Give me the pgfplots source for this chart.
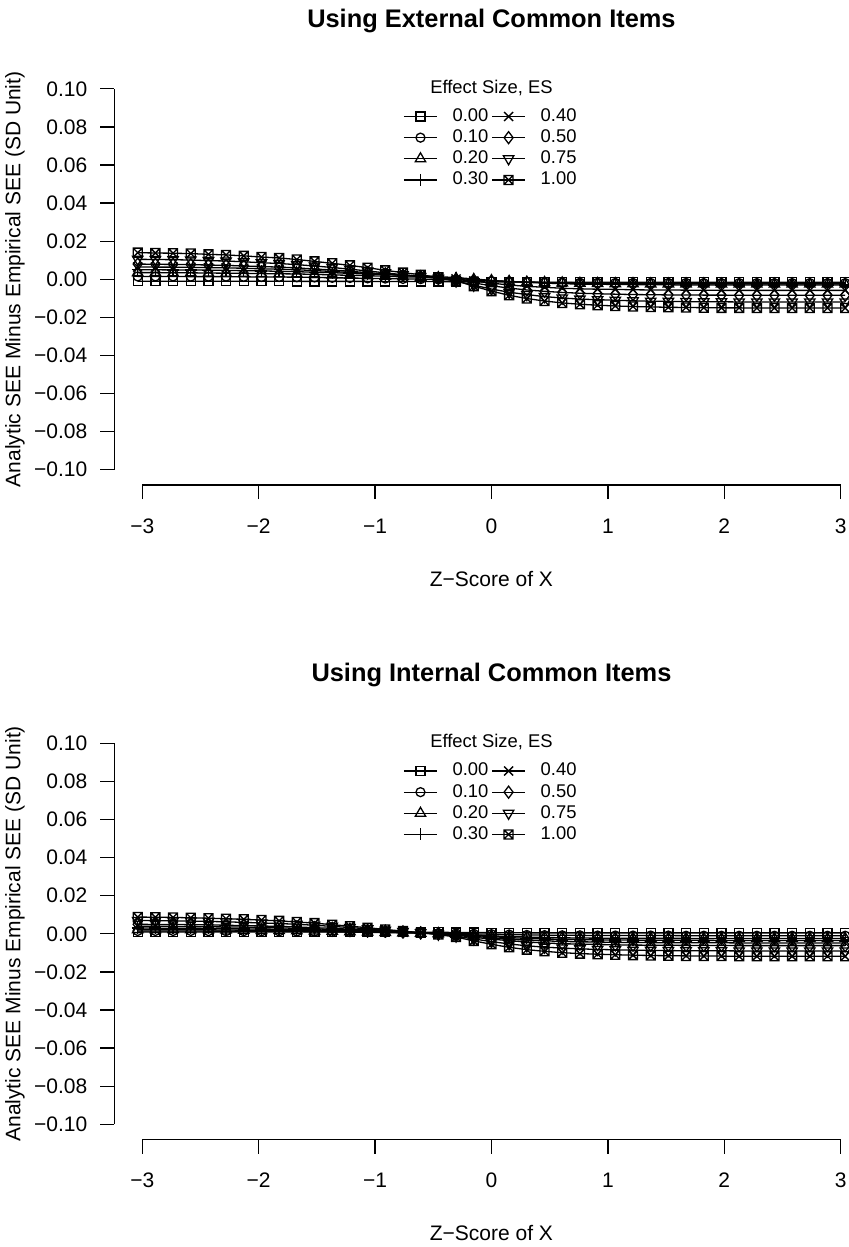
\documentclass[border=0pt]{standalone}
\usepackage{pgfplots}
\pgfplotsset{compat=1.18}
\usepackage{pgfplotstable}
\usepackage{fontspec}
\setmainfont{Liberation Sans}

\pgfdeclareplotmark{boxtimes}{%
  \pgfpathrectangle{\pgfpoint{-\pgfplotmarksize}{-\pgfplotmarksize}}{\pgfpoint{2\pgfplotmarksize}{2\pgfplotmarksize}}%
  \pgfpathmoveto{\pgfpoint{-\pgfplotmarksize}{-\pgfplotmarksize}}%
  \pgfpathlineto{\pgfpoint{\pgfplotmarksize}{\pgfplotmarksize}}%
  \pgfpathmoveto{\pgfpoint{-\pgfplotmarksize}{\pgfplotmarksize}}%
  \pgfpathlineto{\pgfpoint{\pgfplotmarksize}{-\pgfplotmarksize}}%
  \pgfusepathqstroke}

\pgfplotstableread{
x e00 e10 e20 e30 e40 e50 e75 e100
-3.039 -0.0010 0.0015 0.0035 0.0050 0.0065 0.0080 0.0105 0.0140
-2.887 -0.0010 0.0015 0.0035 0.0050 0.0064 0.0079 0.0104 0.0138
-2.735 -0.0010 0.0015 0.0034 0.0049 0.0064 0.0078 0.0103 0.0137
-2.583 -0.0010 0.0014 0.0034 0.0049 0.0063 0.0077 0.0101 0.0135
-2.431 -0.0010 0.0014 0.0033 0.0048 0.0061 0.0075 0.0098 0.0131
-2.280 -0.0010 0.0014 0.0032 0.0047 0.0060 0.0073 0.0096 0.0128
-2.128 -0.0010 0.0013 0.0031 0.0045 0.0058 0.0070 0.0092 0.0123
-1.976 -0.0010 0.0012 0.0030 0.0044 0.0055 0.0067 0.0087 0.0117
-1.824 -0.0010 0.0012 0.0029 0.0042 0.0053 0.0064 0.0083 0.0112
-1.672 -0.0011 0.0011 0.0028 0.0040 0.0050 0.0060 0.0077 0.0104
-1.520 -0.0011 0.0010 0.0026 0.0037 0.0046 0.0054 0.0070 0.0094
-1.368 -0.0011 0.0008 0.0023 0.0035 0.0041 0.0049 0.0062 0.0084
-1.216 -0.0011 0.0007 0.0021 0.0031 0.0036 0.0042 0.0053 0.0073
-1.064 -0.0011 0.0005 0.0019 0.0028 0.0031 0.0035 0.0044 0.0061
-0.912 -0.0012 0.0004 0.0016 0.0025 0.0026 0.0028 0.0034 0.0047
-0.760 -0.0012 0.0002 0.0013 0.0021 0.0021 0.0021 0.0024 0.0035
-0.608 -0.0012 0.0001 0.0011 0.0018 0.0016 0.0014 0.0015 0.0024
-0.456 -0.0012 -0.0001 0.0008 0.0014 0.0010 0.0007 0.0005 0.0010
-0.304 -0.0013 -0.0003 0.0004 0.0009 0.0002 -0.0004 -0.0009 -0.0008
-0.152 -0.0013 -0.0006 -0.0001 0.0002 -0.0009 -0.0019 -0.0031 -0.0036
0.000 -0.0014 -0.0009 -0.0007 -0.0006 -0.0020 -0.0034 -0.0051 -0.0062
0.152 -0.0014 -0.0012 -0.0011 -0.0012 -0.0030 -0.0046 -0.0068 -0.0084
0.304 -0.0015 -0.0014 -0.0015 -0.0016 -0.0037 -0.0056 -0.0080 -0.0101
0.456 -0.0015 -0.0016 -0.0017 -0.0020 -0.0042 -0.0063 -0.0091 -0.0114
0.608 -0.0015 -0.0017 -0.0019 -0.0023 -0.0047 -0.0069 -0.0098 -0.0124
0.760 -0.0015 -0.0018 -0.0021 -0.0025 -0.0050 -0.0073 -0.0104 -0.0131
0.912 -0.0015 -0.0018 -0.0022 -0.0026 -0.0052 -0.0076 -0.0107 -0.0136
1.064 -0.0015 -0.0019 -0.0023 -0.0027 -0.0053 -0.0078 -0.0110 -0.0140
1.216 -0.0015 -0.0019 -0.0023 -0.0028 -0.0055 -0.0080 -0.0113 -0.0143
1.368 -0.0015 -0.0019 -0.0024 -0.0029 -0.0056 -0.0081 -0.0115 -0.0145
1.520 -0.0015 -0.0019 -0.0024 -0.0029 -0.0056 -0.0082 -0.0116 -0.0147
1.672 -0.0015 -0.0019 -0.0024 -0.0030 -0.0057 -0.0082 -0.0117 -0.0148
1.824 -0.0015 -0.0020 -0.0024 -0.0030 -0.0057 -0.0083 -0.0118 -0.0149
1.976 -0.0015 -0.0020 -0.0025 -0.0030 -0.0058 -0.0083 -0.0118 -0.0150
2.128 -0.0015 -0.0020 -0.0025 -0.0030 -0.0058 -0.0084 -0.0119 -0.0150
2.280 -0.0015 -0.0020 -0.0025 -0.0030 -0.0058 -0.0084 -0.0119 -0.0151
2.431 -0.0015 -0.0020 -0.0025 -0.0030 -0.0058 -0.0084 -0.0119 -0.0151
2.583 -0.0015 -0.0020 -0.0025 -0.0030 -0.0058 -0.0084 -0.0119 -0.0151
2.735 -0.0015 -0.0020 -0.0025 -0.0030 -0.0058 -0.0084 -0.0119 -0.0151
2.887 -0.0015 -0.0020 -0.0025 -0.0030 -0.0058 -0.0084 -0.0119 -0.0151
3.039 -0.0015 -0.0020 -0.0025 -0.0030 -0.0058 -0.0084 -0.0119 -0.0151
}\ext

\pgfplotstableread{
x e00 e10 e20 e30 e40 e50 e75 e100
-3.039 0.0010 0.0015 0.0022 0.0030 0.0040 0.0050 0.0070 0.0088
-2.887 0.0010 0.0015 0.0022 0.0030 0.0040 0.0049 0.0069 0.0087
-2.735 0.0010 0.0015 0.0022 0.0029 0.0039 0.0049 0.0068 0.0086
-2.583 0.0010 0.0015 0.0021 0.0029 0.0038 0.0048 0.0067 0.0084
-2.431 0.0010 0.0014 0.0021 0.0028 0.0037 0.0047 0.0065 0.0082
-2.280 0.0010 0.0014 0.0020 0.0027 0.0036 0.0045 0.0063 0.0079
-2.128 0.0010 0.0014 0.0019 0.0026 0.0035 0.0043 0.0060 0.0076
-1.976 0.0010 0.0013 0.0018 0.0025 0.0033 0.0041 0.0057 0.0072
-1.824 0.0010 0.0013 0.0017 0.0024 0.0031 0.0039 0.0054 0.0068
-1.672 0.0009 0.0012 0.0016 0.0022 0.0029 0.0036 0.0050 0.0062
-1.520 0.0009 0.0011 0.0015 0.0020 0.0026 0.0032 0.0045 0.0056
-1.368 0.0009 0.0010 0.0013 0.0018 0.0023 0.0029 0.0039 0.0048
-1.216 0.0009 0.0009 0.0011 0.0015 0.0020 0.0024 0.0033 0.0040
-1.064 0.0009 0.0008 0.0009 0.0012 0.0016 0.0019 0.0026 0.0032
-0.912 0.0008 0.0007 0.0007 0.0009 0.0012 0.0014 0.0019 0.0023
-0.760 0.0008 0.0006 0.0005 0.0007 0.0008 0.0010 0.0012 0.0014
-0.608 0.0008 0.0005 0.0003 0.0004 0.0005 0.0005 0.0006 0.0006
-0.456 0.0008 0.0004 0.0001 0.0001 0.0001 0.0000 -0.0002 -0.0004
-0.304 0.0007 0.0002 -0.0002 -0.0003 -0.0005 -0.0007 -0.0012 -0.0017
-0.152 0.0007 0.0000 -0.0006 -0.0009 -0.0013 -0.0018 -0.0027 -0.0037
0.000 0.0006 -0.0002 -0.0011 -0.0015 -0.0021 -0.0028 -0.0041 -0.0055
0.152 0.0006 -0.0004 -0.0014 -0.0020 -0.0028 -0.0036 -0.0053 -0.0071
0.304 0.0005 -0.0006 -0.0017 -0.0024 -0.0033 -0.0043 -0.0063 -0.0083
0.456 0.0005 -0.0007 -0.0019 -0.0027 -0.0037 -0.0048 -0.0070 -0.0092
0.608 0.0005 -0.0008 -0.0021 -0.0029 -0.0040 -0.0052 -0.0075 -0.0099
0.760 0.0005 -0.0008 -0.0022 -0.0031 -0.0042 -0.0054 -0.0079 -0.0104
0.912 0.0005 -0.0009 -0.0023 -0.0032 -0.0043 -0.0056 -0.0082 -0.0107
1.064 0.0005 -0.0009 -0.0023 -0.0033 -0.0045 -0.0058 -0.0084 -0.0110
1.216 0.0005 -0.0009 -0.0024 -0.0033 -0.0046 -0.0059 -0.0086 -0.0112
1.368 0.0005 -0.0009 -0.0024 -0.0034 -0.0046 -0.0060 -0.0087 -0.0114
1.520 0.0005 -0.0009 -0.0024 -0.0034 -0.0047 -0.0060 -0.0088 -0.0115
1.672 0.0005 -0.0010 -0.0024 -0.0034 -0.0047 -0.0061 -0.0089 -0.0116
1.824 0.0005 -0.0010 -0.0025 -0.0034 -0.0047 -0.0061 -0.0089 -0.0117
1.976 0.0005 -0.0010 -0.0025 -0.0035 -0.0047 -0.0061 -0.0089 -0.0117
2.128 0.0005 -0.0010 -0.0025 -0.0035 -0.0048 -0.0062 -0.0090 -0.0118
2.280 0.0005 -0.0010 -0.0025 -0.0035 -0.0048 -0.0062 -0.0090 -0.0118
2.431 0.0005 -0.0010 -0.0025 -0.0035 -0.0048 -0.0062 -0.0090 -0.0118
2.583 0.0005 -0.0010 -0.0025 -0.0035 -0.0048 -0.0062 -0.0090 -0.0118
2.735 0.0005 -0.0010 -0.0025 -0.0035 -0.0048 -0.0062 -0.0090 -0.0118
2.887 0.0005 -0.0010 -0.0025 -0.0035 -0.0048 -0.0062 -0.0090 -0.0118
3.039 0.0005 -0.0010 -0.0025 -0.0035 -0.0048 -0.0062 -0.0090 -0.0118
}\inte

\pgfplotsset{
  rplot/.style={
    scale only axis, width=377.15pt, height=205.7pt,
    xmin=-3.24, xmax=3.24, ymin=-0.108, ymax=0.108,
    clip=false,
    axis x line*=bottom, axis y line*=left, axis line style={draw=none},
    tick align=outside, major tick length=7pt,
    every tick/.style={black, line width=0.65pt},
    xtick={-3,-2,-1,0,1,2,3},
    xticklabels={−3,−2,−1,0,1,2,3},
    ytick={-0.1,-0.08,-0.06,-0.04,-0.02,0,0.02,0.04,0.06,0.08,0.1},
    yticklabels={−0.10,−0.08,−0.06,−0.04,−0.02,0.00,0.02,0.04,0.06,0.08,0.10},
    scaled y ticks=false, scaled x ticks=false,
    tick label style={font=\fontsize{10.5}{12}\selectfont},
    xticklabel style={anchor=base, yshift=-17.2pt},
    yticklabel style={anchor=east, xshift=-3pt},
    xlabel={Z−Score of X},
    ylabel={Analytic SEE Minus Empirical SEE (SD Unit)},
    xlabel style={at={(axis description cs:0.5,-0.2455)}, anchor=base, font=\fontsize{10.5}{12}\selectfont},
    ylabel style={at={(axis description cs:-0.1316,0.5)}, anchor=center, font=\fontsize{10.5}{12}\selectfont},
    title style={at={(axis description cs:0.5,1.0833)}, anchor=base, font=\bfseries\fontsize{12.7}{15}\selectfont},
    every axis plot/.append style={black, line width=0.65pt, mark options={solid, line width=0.65pt}},
    legend columns=2,
    legend cell align=left,
    legend image code/.code={\draw[mark repeat=2,mark phase=2] plot coordinates {(0pt,0pt) (8.25pt,0pt) (16.5pt,0pt)};},
    legend style={at={(axis description cs:0.498,0.915)}, anchor=north, draw=none, fill=none,
      inner sep=0pt, outer sep=0pt, row sep=2.65pt,
      font=\fontsize{9.2}{11}\selectfont,
      nodes={inner sep=0pt},
      /tikz/every odd column/.append style={column sep=7.5pt},
      /tikz/column 2/.append style={column sep=1.5pt}},
  },
  m00/.style={mark=square, mark size=2.25pt},
  m10/.style={mark=o, mark size=2.25pt},
  m20/.style={mark=triangle, mark size=3pt},
  m30/.style={mark=+, mark size=3pt},
  m40/.style={mark=x, mark size=3.2pt},
  m50/.style={mark=diamond, mark size=3pt},
  m75/.style={mark=triangle, mark size=3pt, mark options={rotate=180}},
  m100/.style={mark=boxtimes, mark size=2.25pt},
}

\begin{document}
\begin{tikzpicture}
\useasboundingbox (0,0) rectangle (424pt,-623.5pt);

\begin{axis}[rplot, at={(57.15pt,-242.5pt)}, anchor=south west, title={Using External Common Items}]
\addplot[m00] table[x=x,y=e00] {\ext}; \addlegendentry{0.00}
\addplot[m40] table[x=x,y=e40] {\ext}; \addlegendentry{0.40}
\addplot[m10] table[x=x,y=e10] {\ext}; \addlegendentry{0.10}
\addplot[m50] table[x=x,y=e50] {\ext}; \addlegendentry{0.50}
\addplot[m20] table[x=x,y=e20] {\ext}; \addlegendentry{0.20}
\addplot[m75] table[x=x,y=e75] {\ext}; \addlegendentry{0.75}
\addplot[m30] table[x=x,y=e30] {\ext}; \addlegendentry{0.30}
\addplot[m100] table[x=x,y=e100] {\ext}; \addlegendentry{1.00}
\draw[line width=0.65pt] (axis cs:-3.24,-0.1) -- (axis cs:-3.24,0.1);
\draw[line width=0.65pt] (axis cs:-3,-0.108) -- (axis cs:3,-0.108);
\node[anchor=base, font=\fontsize{9.2}{11}\selectfont] at (axis description cs:0.5,0.952) {Effect Size, ES};
\end{axis}

\begin{axis}[rplot, at={(57.15pt,-569.75pt)}, anchor=south west, title={Using Internal Common Items}]
\addplot[m00] table[x=x,y=e00] {\inte}; \addlegendentry{0.00}
\addplot[m40] table[x=x,y=e40] {\inte}; \addlegendentry{0.40}
\addplot[m10] table[x=x,y=e10] {\inte}; \addlegendentry{0.10}
\addplot[m50] table[x=x,y=e50] {\inte}; \addlegendentry{0.50}
\addplot[m20] table[x=x,y=e20] {\inte}; \addlegendentry{0.20}
\addplot[m75] table[x=x,y=e75] {\inte}; \addlegendentry{0.75}
\addplot[m30] table[x=x,y=e30] {\inte}; \addlegendentry{0.30}
\addplot[m100] table[x=x,y=e100] {\inte}; \addlegendentry{1.00}
\draw[line width=0.65pt] (axis cs:-3.24,-0.1) -- (axis cs:-3.24,0.1);
\draw[line width=0.65pt] (axis cs:-3,-0.108) -- (axis cs:3,-0.108);
\node[anchor=base, font=\fontsize{9.2}{11}\selectfont] at (axis description cs:0.5,0.952) {Effect Size, ES};
\end{axis}
\end{tikzpicture}
\end{document}
